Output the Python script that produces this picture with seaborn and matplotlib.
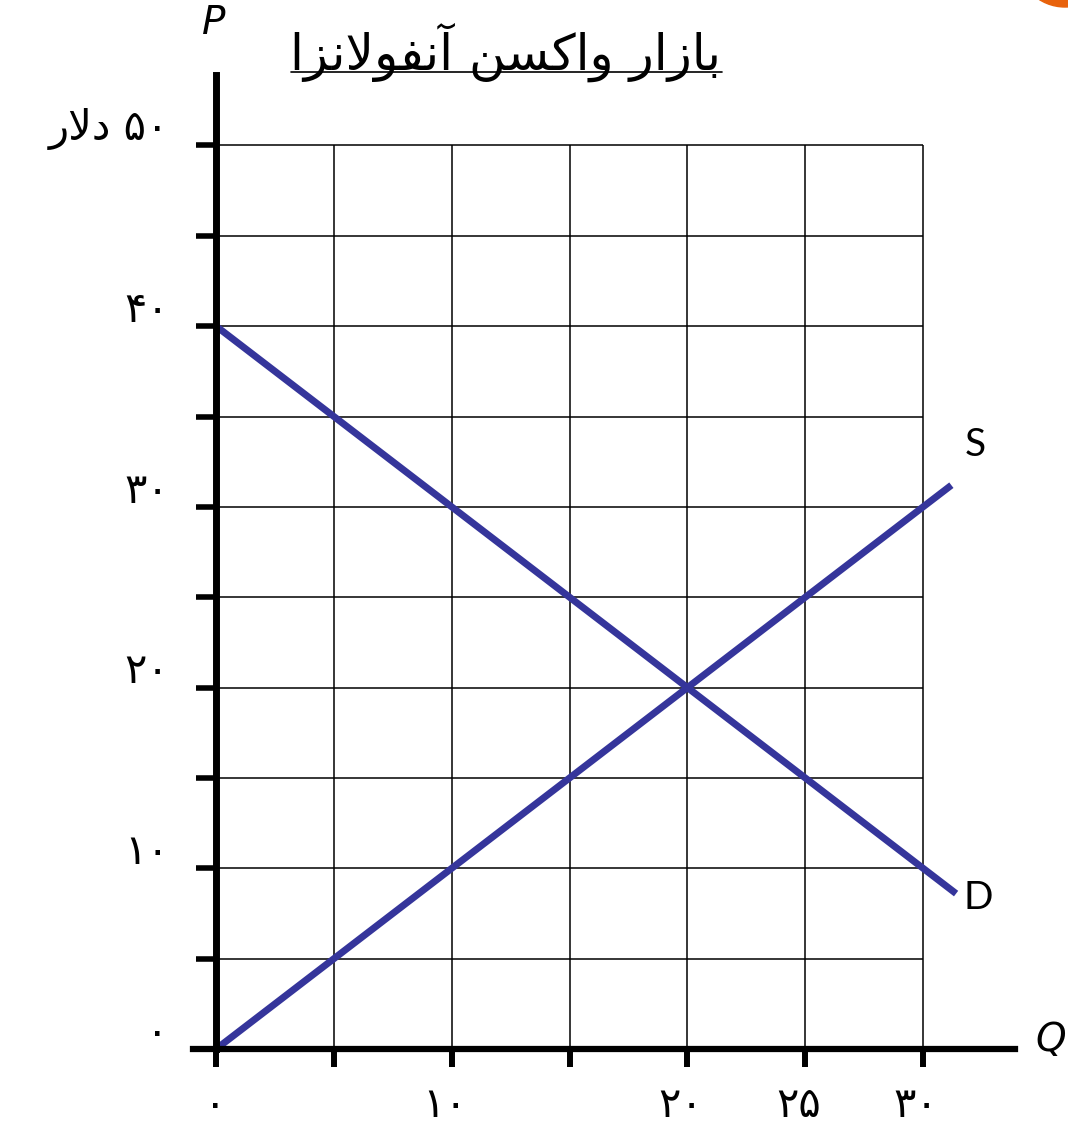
import matplotlib
matplotlib.use('Agg')
import matplotlib.pyplot as plt
import seaborn as sns
import numpy as np
from matplotlib.patches import Ellipse
from matplotlib.lines import Line2D

# Data
demand_q = [0, 10, 20, 30, 31.4]
demand_p = [40, 30, 20, 10, 8.6]
supply_q = [0, 10, 20, 30, 31.2]
supply_p = [0, 10, 20, 30, 31.2]

grid_q = [5, 10, 15, 20, 25, 30]
grid_p = [5, 10, 15, 20, 25, 30, 35, 40, 45, 50]
x_label_vals = [0, 10, 20, 25, 30]
x_label_text = ['۰', '۱۰', '۲۰', '۲۵', '۳۰']
y_label_vals = [0, 10, 20, 30, 40, 50]
y_label_text = ['۰', '۱۰', '۲۰', '۳۰', '۴۰', '۵۰ دلار']
title_text = 'بازار واکسن آنفولانزا'

line_color = '#35359b'

# ---- tiny Persian shaper (matplotlib has no complex text layout) ----
FORMS = {
    'ا': (0xFE8D, 0xFE8E), 'آ': (0xFE81, 0xFE82),
    'د': (0xFEA9, 0xFEAA), 'ر': (0xFEAD, 0xFEAE),
    'ز': (0xFEAF, 0xFEB0), 'و': (0xFEED, 0xFEEE),
    'ب': (0xFE8F, 0xFE90, 0xFE91, 0xFE92),
    'ک': (0xFB8E, 0xFB8F, 0xFB90, 0xFB91),
    'س': (0xFEB1, 0xFEB2, 0xFEB3, 0xFEB4),
    'ن': (0xFEE5, 0xFEE6, 0xFEE7, 0xFEE8),
    'ف': (0xFED1, 0xFED2, 0xFED3, 0xFED4),
    'ل': (0xFEDD, 0xFEDE, 0xFEDF, 0xFEE0),
}


def shape_word(w):
    out = []
    i = 0
    while i < len(w):
        c = w[i]
        if c not in FORMS:
            out.append(c)
            i += 1
            continue
        prev = w[i - 1] if i > 0 else None
        join_prev = prev in FORMS and len(FORMS[prev]) == 4
        if c == 'ل' and i + 1 < len(w) and w[i + 1] == 'ا':
            out.append(chr(0xFEFC if join_prev else 0xFEFB))
            i += 2
            continue
        nxt = w[i + 1] if i + 1 < len(w) else None
        f = FORMS[c]
        join_next = len(f) == 4 and nxt in FORMS
        if join_prev and join_next:
            g = f[3]
        elif join_prev:
            g = f[1]
        elif join_next:
            g = f[2]
        else:
            g = f[0]
        out.append(chr(g))
        i += 1
    return ''.join(out)


def visual(s):
    words = []
    for w in s.split(' '):
        if any(ch in FORMS for ch in w):
            words.append(shape_word(w)[::-1])
        else:
            words.append(w)
    return ' '.join(words[::-1])


sns.set_theme(style='white')
plt.rcParams['font.family'] = ['DejaVu Sans']
plt.rcParams['text.color'] = 'black'

fig = plt.figure(figsize=(10.68, 11.25), dpi=100)
ax = fig.add_axes([193 / 1068, 76 / 1125, 822 / 1068, 974 / 1125])
ax.set_xlim(-0.98, 33.9)
ax.set_ylim(0, 53.9)

# grid inside the 0-30 / 0-50 box
ax.hlines(grid_p, 0, max(grid_q), color='black', lw=1.1, zorder=1)
ax.vlines(grid_q, 0, max(grid_p), color='black', lw=1.1, zorder=1)

sns.lineplot(x=supply_q, y=supply_p, ax=ax, color=line_color, lw=5,
             sort=False, estimator=None, zorder=3, solid_capstyle='butt')
sns.lineplot(x=demand_q, y=demand_p, ax=ax, color=line_color, lw=5,
             sort=False, estimator=None, zorder=3, solid_capstyle='butt')

for s in ['top', 'right']:
    ax.spines[s].set_visible(False)
ax.spines['left'].set_position(('data', 0))
ax.spines['bottom'].set_position(('data', 0))
ax.spines['left'].set_linewidth(5)
ax.spines['bottom'].set_linewidth(4.5)
ax.spines['left'].set_color('black')
ax.spines['bottom'].set_color('black')
ax.spines['left'].set_zorder(4)
ax.spines['bottom'].set_zorder(4)

ax.set_xticks([0] + grid_q)
ax.set_yticks([0] + grid_p)
ax.set_xticklabels([])
ax.set_yticklabels([])
ax.tick_params(axis='x', direction='out', length=13, width=4.3, color='black', bottom=True)
ax.tick_params(axis='y', direction='out', length=14.5, width=4, color='black', left=True)

for v, t in zip(x_label_vals, x_label_text):
    ax.text(v - 0.25 * (len(t) > 1) - 0.05, -3.1, t, ha='center', va='center',
            fontsize=30, clip_on=False)
for v, t in zip(y_label_vals, y_label_text):
    ax.text(-2.0, v + 0.9, visual(t), ha='right', va='center', fontsize=30, clip_on=False)

ax.text(-0.1, 56.8, 'P', ha='center', va='center', fontsize=28, style='italic', clip_on=False)
ax.text(35.4, 0.5, 'Q', ha='center', va='center', fontsize=28, style='italic', clip_on=False)
ax.text(32.2, 33.4, 'S', ha='center', va='center', fontsize=28,
        family=['Lato', 'DejaVu Sans'], clip_on=False)
ax.text(32.35, 8.35, 'D', ha='center', va='center', fontsize=28,
        family=['Lato', 'DejaVu Sans'], clip_on=False)

title = fig.text(506 / 1068, 1 - 52 / 1125, visual(title_text), ha='center', va='center',
                 fontsize=36)
fig.canvas.draw()
bb = title.get_window_extent()
uy = (1125 - 72) / 1125
fig.add_artist(Line2D([bb.x0 / 1068, bb.x1 / 1068], [uy, uy], color='black', lw=1.2,
                      transform=fig.transFigure))

fig.add_artist(Ellipse((1065 / 1068, (1125 + 41) / 1125), 96 / 1068, 96 / 1125,
                       color='#e8620c', transform=fig.transFigure))

fig.savefig('out.png', dpi=100)
